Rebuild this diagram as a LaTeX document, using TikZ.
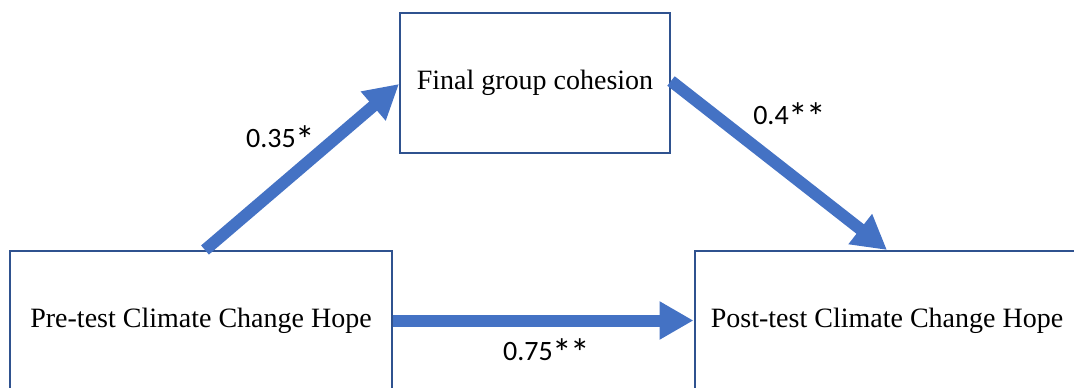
\documentclass[tikz,border=0pt]{standalone}
\usepackage{fontspec}
\setmainfont{Liberation Serif}
\newfontfamily\lblfont{Carlito}
\usetikzlibrary{arrows.meta}
\definecolor{arrowblue}{HTML}{4472C4}
\definecolor{boxblue}{HTML}{2F528F}
\newcommand\coefstar{\kern-0.5pt\raisebox{-6.5pt}{\scalebox{1.4}{*}}\kern-1pt}
\tikzset{
  varbox/.style={draw=boxblue, line width=2pt, fill=white, align=center, inner sep=0pt,
    font=\fontsize{28}{32}\selectfont},
  patharrow/.style={draw=arrowblue, line width=12pt,
    -{Triangle[length=34pt, width=36pt]}},
  coef/.style={font=\lblfont\fontsize{28}{32}\selectfont, inner sep=0pt}
}
\begin{document}
\begin{tikzpicture}[x=1pt, y=-1pt]
\useasboundingbox (0,0) rectangle (1074,388);
\clip (0,0) rectangle (1074,388);
\node[varbox, minimum width=270pt, minimum height=140pt] (T) at (535,83) {Final group cohesion};
\node[varbox, minimum width=382pt, minimum height=139pt] (L) at (201,320.5) {Pre-test Climate Change Hope};
\node[varbox, minimum width=385pt, minimum height=139pt] (R) at (887,320.5) {Post-test Climate Change Hope};
\draw[patharrow] ([xshift=4pt]L.north) -- ([yshift=-1pt]T.west);
\draw[patharrow] ([yshift=2pt]T.east) -- (R.north);
\draw[patharrow] (L.east) -- (R.west);
\node[coef] (c1) at (280,140) {0.35\coefstar};
\node[coef] (c2) at (789,117) {0.4\coefstar\coefstar};
\node[coef] (c3) at (546,353) {0.75\coefstar\coefstar};
\end{tikzpicture}
\end{document}
